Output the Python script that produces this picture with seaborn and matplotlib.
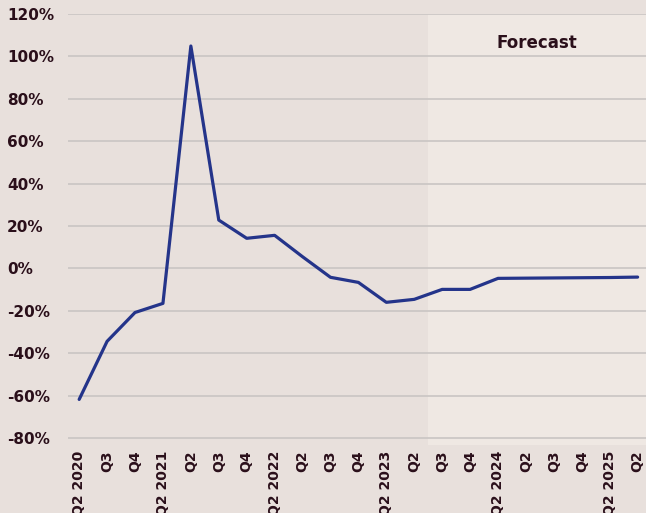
import matplotlib
matplotlib.use("Agg")
import matplotlib.pyplot as plt
import seaborn as sns
import pandas as pd
import numpy as np

quarters = ["Q2 2020", "Q3", "Q4", "Q2 2021", "Q2", "Q3", "Q4", "Q2 2022", "Q2", "Q3", "Q4",
            "Q2 2023", "Q2", "Q3", "Q4", "Q2 2024", "Q2", "Q3", "Q4", "Q2 2025", "Q2"]
growth = [-61.8, -34.4, -20.8, -16.5, 104.9, 22.8, 14.2, 15.6, 5.5, -4.2, -6.6,
          -16.0, -14.6, -9.9, -9.9, -4.7, -4.6, -4.5, -4.4, -4.3, -4.1]
y_ticks = [-80, -60, -40, -20, 0, 20, 40, 60, 80, 100, 120]
forecast_label = "Forecast"
forecast_start = 12.5

df = pd.DataFrame({"idx": np.arange(len(quarters)), "growth": growth})

bg = "#e8e0dc"
fc_bg = "#efe8e3"
txt = "#2a0f1a"
line_c = "#24348a"
grid_c = "#c9c5c3"

sns.set_theme(style="white")
plt.rcParams['font.family'] = ['DejaVu Sans']

fig = plt.figure(figsize=(6.46, 5.13), dpi=100, facecolor=bg)
ax = fig.add_axes([68/646, 68/513, 1 - 68/646, (445-14)/513])
ax.set_facecolor(bg)

ax.set_xlim(-0.4, 20.3)
ax.set_ylim(-83.3, 120)
ax.axvspan(forecast_start, 20.3, color=fc_bg, zorder=0, lw=0)

for t in y_ticks:
    ax.axhline(t, color=grid_c, lw=1.2, zorder=1)

sns.lineplot(data=df, x="idx", y="growth", ax=ax, color=line_c, lw=2.3, zorder=3)

ax.set_yticks(y_ticks)
ax.set_yticklabels([f"{t}%" for t in y_ticks], fontsize=11, fontweight="bold", color=txt)
for lab in ax.get_yticklabels():
    lab.set_horizontalalignment("left")
ax.set_xticks(df["idx"])
ax.set_xticklabels(quarters, rotation=90, fontsize=10, fontweight="bold", color=txt)
ax.tick_params(axis="both", length=0)
ax.tick_params(axis="x", pad=4)
ax.tick_params(axis="y", pad=61 * 72 / 100)
ax.set_xlabel("")
ax.set_ylabel("")
for s in ax.spines.values():
    s.set_visible(False)

ax.text((forecast_start + 20.3) / 2, 106.5, forecast_label, ha="center", va="center",
        fontsize=12, fontweight="bold", color=txt)

fig.savefig("out.png", dpi=100, facecolor=bg)
